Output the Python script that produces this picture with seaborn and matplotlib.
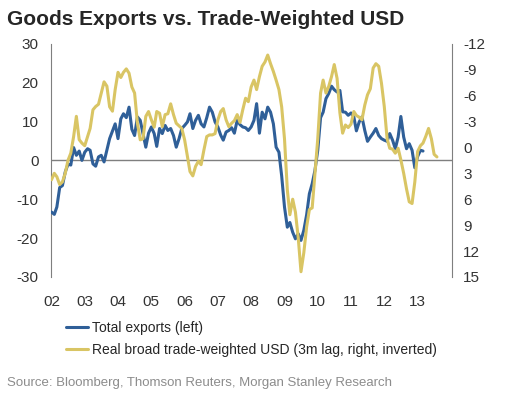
"""goods exports vs trade-weighted usd"""

import pandas as pd
import matplotlib.pyplot as plt
import matplotlib.dates as mdates
from matplotlib.lines import Line2D
import seaborn as sns

# total exports, % y/y, monthly from Jan 2002 (left axis)
exports = [
    -13.3, -13.9, -12.0, -7.0, -6.5, -3.0, -1.0, -1.2, 3.3, 1.3, 2.4, 0.0,
    2.1, 3.0, 2.6, -0.9, -1.5, 0.9, 1.3, -0.4, 2.6, 5.6, 7.5, 9.4,
    5.6, 10.7, 12.0, 11.0, 13.7, 8.0, 6.4, 11.2, 10.3, 6.9, 3.4, 7.0,
    8.6, 6.9, 3.6, 8.2, 6.9, 9.0, 7.7, 8.2, 6.4, 3.4, 5.6, 8.2,
    9.0, 9.9, 12.0, 8.2, 10.3, 11.6, 9.4, 8.6, 11.0, 13.7, 12.4, 9.9,
    8.6, 6.5, 5.2, 7.3, 7.7, 8.4, 7.0, 10.3, 9.2, 8.6, 8.4, 7.7,
    8.6, 10.3, 14.6, 7.0, 12.4, 10.7, 13.7, 12.4, 9.4, 3.4, 2.1, -4.0,
    -12.0, -17.2, -16.0, -18.5, -20.2, -18.9, -20.6, -18.0, -14.0, -8.6, -6.0, -2.6,
    2.6, 11.0, 12.4, 15.9, 17.2, 19.1, 18.2, 17.6, 18.0, 12.5, 12.4, 11.6,
    12.2, 11.2, 7.6, 9.9, 11.2, 7.7, 4.9, 6.0, 7.0, 8.2, 6.4, 5.6,
    5.2, 4.9, 6.9, 5.2, 3.0, 6.0, 11.3, 6.0, 3.0, 4.3, 2.6, -1.9,
    1.0, 2.6, 2.4,
]

# real broad trade-weighted usd, 3m lag (right axis, inverted)
usd = [
    3.75, 3.0, 3.4, 4.3, 4.0, 3.0, 1.5, 0.66, -1.26, -3.6, -0.9, -0.5,
    -0.2, -1.26, -2.2, -4.36, -4.74, -5.0, -6.3, -7.6, -7.1, -4.7, -4.2, -6.7,
    -8.7, -8.1, -8.7, -9.1, -8.6, -7.0, -6.3, -2.8, -0.88, -1.0, -3.6, -4.16,
    -3.2, -2.35, -4.16, -3.96, -2.4, -3.8, -3.9, -5.05, -3.8, -2.8, -2.5, -2.2,
    -0.88, 1.05, 2.8, 3.3, 2.2, 1.6, 2.0, 0.28, -1.26, -1.45, -1.45, -1.6,
    -3.2, -4.16, -4.5, -3.2, -2.4, -2.8, -3.1, -3.8, -2.9, -4.36, -5.7, -5.3,
    -7.0, -7.8, -6.7, -8.2, -9.4, -9.9, -10.7, -9.7, -8.8, -7.8, -6.7, -4.7,
    -1.0, 4.9, 7.8, 6.0, 7.5, 10.5, 14.4, 12.2, 9.2, 7.2, 7.0, 3.0,
    -1.0, -6.3, -7.8, -6.3, -7.05, -8.2, -9.6, -8.0, -4.0, -1.65, -2.6, -2.3,
    -2.7, -4.16, -3.7, -3.5, -3.2, -4.9, -6.1, -6.8, -9.2, -9.7, -9.4, -7.45,
    -4.74, -1.0, 0.1, 0.2, 0.67, 0.1, 1.44, 3.0, 4.8, 6.3, 6.5, 4.0,
    0.47, -0.2, -0.5, -1.3, -2.2, -1.0, 0.8, 1.1,
]

years = pd.date_range("2002-01-01", "2013-01-01", freq="YS")
left_ticks = [-30, -20, -10, 0, 10, 20, 30]
right_ticks = [-12, -9, -6, -3, 0, 3, 6, 9, 12, 15]

BLUE = "#2f5f98"
GOLD = "#d9c564"
GREY = "#7f7f7f"


def exports_vs_usd_graph():
    exp_df = pd.DataFrame({
        "Date": pd.date_range("2002-01-01", periods=len(exports), freq="MS"),
        "Exports": exports,
    })
    usd_df = pd.DataFrame({
        "Date": pd.date_range("2002-01-01", periods=len(usd), freq="MS"),
        "USD": usd,
    })

    sns.set_style("white")
    plt.rcParams["font.family"] = ["Liberation Sans", "DejaVu Sans"]
    plt.rcParams["axes.unicode_minus"] = False

    fig = plt.figure(figsize=(5.27, 3.95), dpi=100)
    ax = fig.add_axes([0.097, 0.299, 0.761, 0.590])
    ax2 = ax.twinx()

    ax.axhline(0, color=GREY, lw=1, zorder=1)
    sns.lineplot(data=exp_df, x="Date", y="Exports", ax=ax, color=BLUE,
                 lw=2.2, legend=False, zorder=3)
    sns.lineplot(data=usd_df, x="Date", y="USD", ax=ax2, color=GOLD,
                 lw=2.2, legend=False, zorder=3)

    ax.set_xlim(pd.Timestamp("2001-12-28"), pd.Timestamp("2014-01-15"))
    ax.set_xticks(years)
    ax.xaxis.set_major_formatter(mdates.DateFormatter("%y"))
    ax.set_ylim(-30, 30)
    ax.set_yticks(left_ticks)
    ax2.set_ylim(15, -12)
    ax2.set_yticks(right_ticks)

    for a in (ax, ax2):
        a.set_xlabel("")
        a.set_ylabel("")
        for s in a.spines.values():
            s.set_visible(False)
    ax.spines["left"].set_visible(True)
    ax.spines["left"].set_color(GREY)
    ax2.spines["right"].set_visible(True)
    ax2.spines["right"].set_color(GREY)

    ax.tick_params(axis="x", length=0, pad=13, labelsize=11, colors="#333333")
    ax.tick_params(axis="y", length=0, pad=9, labelsize=11, colors="#333333")
    ax2.tick_params(axis="y", length=0, pad=8, labelsize=11, colors="#333333")

    fig.text(0.013, 0.975, "Goods Exports vs. Trade-Weighted USD",
             fontsize=15, fontweight="bold", va="top", ha="left")

    handles = [Line2D([], [], color=BLUE, lw=2.2),
               Line2D([], [], color=GOLD, lw=2.2)]
    labels = ["Total exports (left)",
              "Real broad trade-weighted USD (3m lag, right, inverted)"]
    fig.legend(handles, labels, loc="upper left", bbox_to_anchor=(0.125, 0.187),
               frameon=False, fontsize=10, handlelength=1.6, handletextpad=0.25,
               labelspacing=0.55, borderpad=0, borderaxespad=0)

    fig.text(0.013, 0.03, "Source: Bloomberg, Thomson Reuters, Morgan Stanley Research",
             fontsize=9.5, color="#8c8c8c", va="center", ha="left")

    plt.savefig("out.png", dpi=100)
    plt.close()


exports_vs_usd_graph()
